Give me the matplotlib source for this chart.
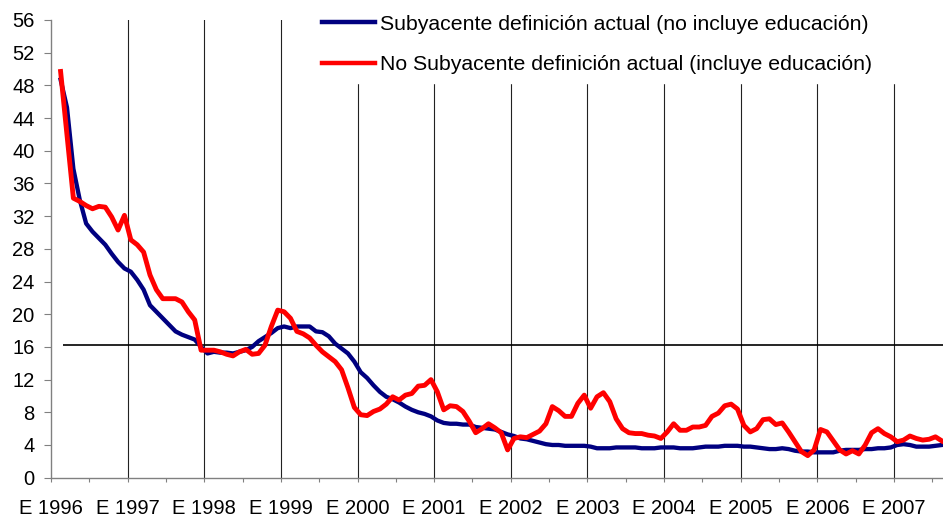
import numpy as np
import matplotlib.pyplot as plt
from matplotlib.ticker import FixedLocator, NullFormatter

plt.rcParams['font.family'] = ['Liberation Sans', 'DejaVu Sans']

# monthly series, Feb 1996 .. Aug 2007 (month index 1 = Feb 1996)
month_idx = np.arange(1, 140)

subyacente = [
    48.7, 45.3, 37.8, 34.0, 31.1, 30.1, 29.3, 28.5, 27.4, 26.4, 25.6,
    25.2, 24.2, 23.0, 21.1, 20.3, 19.5, 18.7, 17.9, 17.5, 17.2, 16.9, 16.0,
    15.2, 15.4, 15.3, 15.3, 15.2, 15.4, 15.6, 16.0, 16.7, 17.2, 17.7, 18.3,
    18.5, 18.3, 18.5, 18.5, 18.5, 17.9, 17.8, 17.3, 16.4, 15.8, 15.2, 14.2,
    12.9, 12.2, 11.3, 10.5, 9.9, 9.6, 9.2, 8.7, 8.3, 8.0, 7.8, 7.5,
    7.0, 6.7, 6.6, 6.6, 6.5, 6.5, 6.2, 6.1, 6.0, 5.9, 5.6, 5.3,
    5.1, 4.8, 4.7, 4.5, 4.3, 4.1, 4.0, 4.0, 3.9, 3.9, 3.9, 3.9,
    3.8, 3.6, 3.6, 3.6, 3.7, 3.7, 3.7, 3.7, 3.6, 3.6, 3.6, 3.7,
    3.7, 3.7, 3.6, 3.6, 3.6, 3.7, 3.8, 3.8, 3.8, 3.9, 3.9, 3.9,
    3.8, 3.8, 3.7, 3.6, 3.5, 3.5, 3.6, 3.5, 3.3, 3.2, 3.2, 3.1,
    3.1, 3.1, 3.1, 3.3, 3.4, 3.4, 3.4, 3.5, 3.5, 3.6, 3.6, 3.7,
    4.0, 4.1, 4.0, 3.8, 3.8, 3.8, 3.9, 4.0,
]

no_subyacente = [
    49.7, 42.0, 34.2, 33.8, 33.3, 32.9, 33.2, 33.1, 31.9, 30.3, 32.1,
    29.1, 28.5, 27.6, 24.8, 23.0, 21.9, 21.9, 21.9, 21.5, 20.3, 19.3, 15.6,
    15.6, 15.6, 15.4, 15.1, 14.9, 15.4, 15.7, 15.1, 15.2, 16.2, 18.5, 20.5,
    20.3, 19.5, 17.9, 17.6, 17.1, 16.2, 15.4, 14.8, 14.2, 13.2, 11.0, 8.6,
    7.7, 7.6, 8.1, 8.4, 9.0, 9.9, 9.5, 10.1, 10.3, 11.2, 11.3, 12.0,
    10.5, 8.3, 8.8, 8.7, 8.1, 6.9, 5.5, 6.0, 6.6, 6.1, 5.5, 3.4,
    4.8, 5.0, 4.9, 5.3, 5.7, 6.6, 8.7, 8.2, 7.5, 7.5, 9.1, 10.1,
    8.5, 9.9, 10.4, 9.3, 7.2, 6.0, 5.5, 5.4, 5.4, 5.2, 5.1, 4.8,
    5.6, 6.6, 5.8, 5.8, 6.2, 6.2, 6.4, 7.5, 7.9, 8.8, 9.0, 8.4,
    6.4, 5.6, 6.0, 7.1, 7.2, 6.5, 6.7, 5.6, 4.4, 3.2, 2.7, 3.4,
    5.9, 5.6, 4.5, 3.4, 2.9, 3.3, 2.9, 4.0, 5.5, 6.0, 5.4, 5.0,
    4.4, 4.6, 5.1, 4.8, 4.6, 4.7, 5.0, 4.5,
]

years = list(range(1996, 2008))
year_labels = ['E %d' % y for y in years]
ref_level = 16.2
ref_start = 1996.16

x = 1996 + (month_idx + 0.5) / 12.0

fig = plt.figure(figsize=(9.43, 5.19), dpi=100)
ax = fig.add_axes([0.0541, 0.0796, 0.9459, 0.8819])

for y in years[1:]:
    ax.axvline(y, color='#222222', lw=0.8, zorder=1)
ax.hlines(ref_level, ref_start, 2008, color='black', lw=1.2, zorder=2)

ax.plot(x, subyacente, color='#000080', lw=3.1, zorder=3,
        label='Subyacente definición actual (no incluye educación)')
ax.plot(x, no_subyacente, color='#ff0000', lw=3.5, zorder=4,
        label='No Subyacente definición actual (incluye educación)')

ax.set_xlim(1996, 2007.64)
ax.set_ylim(0, 56)
ax.set_yticks(np.arange(0, 57, 4))
ax.set_xticks(years)
ax.set_xticklabels(year_labels)
ax.xaxis.set_minor_locator(FixedLocator([y + 0.5 for y in years]))
ax.xaxis.set_minor_formatter(NullFormatter())

ax.tick_params(axis='y', direction='out', length=4.8, width=0.8, pad=7,
               labelsize=14.5, color='#808080')
ax.tick_params(axis='x', which='both', direction='out', length=3, width=0.8,
               pad=12, labelsize=14.5, color='#808080')

for side in ['top', 'right']:
    ax.spines[side].set_visible(False)
for side in ['left', 'bottom']:
    ax.spines[side].set_color('#808080')
    ax.spines[side].set_linewidth(1.0)

top = 1 - 6.0 / 519
leg = ax.legend(loc='upper left',
                bbox_to_anchor=(313.5 / 943, top - 0.2, 1 - 313.5 / 943, 0.2),
                bbox_transform=fig.transFigure, mode='expand', borderaxespad=0,
                fontsize=15.3, frameon=True, fancybox=False, framealpha=1,
                facecolor='white', edgecolor='white', borderpad=0.4,
                handlelength=2.5, handletextpad=0.25, labelspacing=1.03)
leg.set_zorder(5)
for line in leg.get_lines():
    line.set_linewidth(3.2)

fig.savefig('out.png', dpi=100)
plt.close()
